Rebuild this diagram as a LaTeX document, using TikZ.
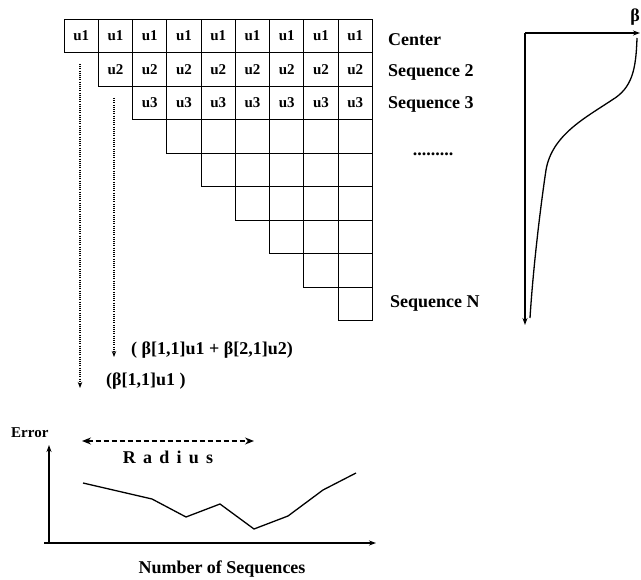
\documentclass[tikz,border=0pt]{standalone}
\usepackage{fontspec}
\setmainfont{Liberation Serif}
\usetikzlibrary{arrows.meta}
\begin{document}
\begin{tikzpicture}[x=1pt,y=-1pt,
  cell/.style={draw,line width=1.2pt,minimum width=34.25pt,minimum height=33.5pt,inner sep=0pt,font=\fontsize{15}{15}\selectfont\bfseries},
  lbl/.style={font=\fontsize{18}{18}\selectfont\bfseries,inner sep=0pt},
  dotarrow/.style={line width=1.2pt,dash pattern=on 1pt off 1.2pt,-{Stealth[length=6pt,width=4.5pt]}},
  axis/.style={line width=1.3pt,-{Stealth[length=7pt,width=5pt]}}]
\useasboundingbox (0,0) rectangle (641,580);
% grid
\foreach \r in {0,...,8}{
  \foreach \c in {\r,...,8}{
    \pgfmathtruncatemacro{\rr}{\r+1}
    \pgfmathsetmacro{\cx}{64.125+34.25*\c+17.125}
    \pgfmathsetmacro{\cy}{19.25+33.5*\r+16.75}
    \ifnum\r<3
      \node[cell] (c\r-\c) at (\cx,\cy) {u\rr};
    \else
      \node[cell] (c\r-\c) at (\cx,\cy) {};
    \fi
  }
}
% row labels
\node[lbl,anchor=west] (center) at (388,40) {Center};
\node[lbl,anchor=west] (seq2) at (388,72) {Sequence 2};
\node[lbl,anchor=west] (seq3) at (388,104) {Sequence 3};
\node[lbl] (dots) at (433,154) {.........};
\node[lbl,anchor=west] (seqN) at (390,303) {Sequence N};
% dotted arrows
\coordinate (a1s) at (80,64);
\coordinate (a1e) at (80,388);
\coordinate (a2s) at (114,98);
\coordinate (a2e) at (114,357);
\draw[dotarrow] (a1s) -- (a1e);
\draw[dotarrow] (a2s) -- (a2e);
\node[lbl,anchor=west] (sum2) at (131,350) {( β[1,1]u1 + β[2,1]u2)};
\node[lbl,anchor=west] (sum1) at (106,381) {(β[1,1]u1 )};
% right plot
\coordinate (o) at (525,33);
\coordinate (bx) at (640,33);
\coordinate (by) at (525,325);
\draw[axis] (o) -- (bx);
\draw[axis] (o) -- (by);
\node[lbl,anchor=south] (beta) at (635,26) {β};
\draw[line width=1.3pt] (637,38) .. controls (636,70) and (632,88) .. (612,100)
  .. controls (585,118) and (552,135) .. (546,170)
  .. controls (540,210) and (533,270) .. (530,318);
% bottom chart
\coordinate (eo) at (49,543);
\coordinate (ey) at (49,445);
\coordinate (exl) at (44,543);
\coordinate (ex) at (376,543);
\draw[axis] (eo) -- (ey);
\draw[axis] (exl) -- (ex);
\node[lbl,anchor=west,font=\fontsize{15}{15}\selectfont\bfseries] (err) at (11,433) {Error};
\coordinate (rl) at (82,441);
\coordinate (rr) at (254,441);
\draw[line width=1.3pt,dash pattern=on 5pt off 3pt,{Stealth[length=9pt,width=7pt]}-{Stealth[length=9pt,width=7pt]}] (rl) -- (rr);
\node[lbl] (radius) at (168,457) {\addfontfeature{LetterSpace=40}Radius};
\draw[line width=1.3pt] (83,483) -- (152,499) -- (186,517) -- (220,504) -- (254,529) -- (288,516) -- (323,490) -- (356,473);
\node[lbl] (nseq) at (222,569) {Number of Sequences};
\end{tikzpicture}
\end{document}
